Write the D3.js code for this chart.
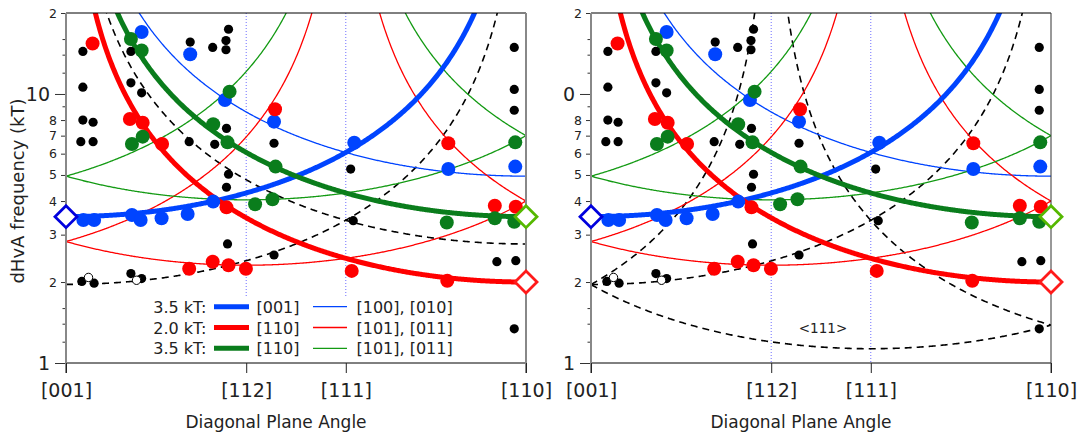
<!DOCTYPE html>
<html>
<head>
<meta charset="utf-8">
<script src="https://cdn.jsdelivr.net/npm/d3@7"></script>
<style>
  body { margin: 0; background: #fff; }
  text { font-family: "DejaVu Sans", sans-serif; fill: #222; }
</style>
</head>
<body>
<script>
// ---- data ----
var angleLabels = ["[001]", "[112]", "[111]", "[110]"];
var angleValues = [0, 35.26, 54.74, 90];
var freqMajor = [1, 10];
var freqLabeled = [2, 3, 4, 5, 6, 7, 8, 20];
var freqMinor = [1.2, 1.4, 1.6, 9, 12, 14, 16];

// measured dHvA points: [angle (deg from [001]), frequency (kT)]
var blackPts = [[3.3,14.4],[3.3,10.6],[3.3,8.0],[5.3,7.85],[2.9,6.65],[5.3,6.65],[12.7,14.4],[12.7,11.0],
  [14.8,10.1],[24.3,15.6],[28.7,14.9],[31.3,14.6],[31.3,15.8],[31.8,17.4],[24.1,6.65],[29.1,6.5],
  [31.4,7.45],[31.8,5.03],[31.4,4.5],[40.7,6.56],[55.7,5.26],[87.7,14.9],[87.7,10.4],[87.7,8.7],
  [31.6,2.77],[3.1,2.01],[5.5,1.98],[12.7,2.15],[14.8,2.06],[40.7,2.52],[56.2,3.38],[84.3,2.38],
  [88.0,2.40],[87.7,1.34]];
var openPts = [[4.4,2.08],[13.8,2.03]];
var bluePts = [[14.8,17.0],[24.3,14.05],[31.1,9.5],[28.8,3.98],[40.7,7.89],[56.4,6.59],[74.8,5.26],
  [87.9,5.37],[3.4,3.40],[5.5,3.40],[12.9,3.55],[14.6,3.40],[18.7,3.45],[23.8,3.58]];
var redPts = [[5.2,15.4],[12.5,8.07],[15.0,7.82],[18.8,6.52],[31.4,3.79],[40.9,8.77],[74.8,6.56],
  [83.9,3.84],[88.0,3.81],[24.1,2.24],[28.7,2.38],[31.8,2.31],[35.2,2.24],[55.9,2.20],[74.6,2.02]];
var greenPts = [[12.7,16.0],[14.8,14.5],[32.0,10.2],[12.9,6.52],[15.0,6.94],[28.8,7.72],[31.6,6.61],
  [37.0,3.89],[40.4,4.06],[41.0,5.37],[74.5,3.33],[83.9,3.45],[87.7,3.35],[87.9,6.61]];

// calculated extremal orbits: frequency F0 (kT) and the pocket axis
var orbitF0   = [3.5, 2.0, 3.5, 3.5, 2.0, 2.0, 3.5, 3.5];
var orbitAxis = [[0,0,1],[1,1,0],[1,1,0],[1,0,0],[1,0,1],[-1,0,1],[1,0,1],[-1,0,1]];
var leftDashF0 = [1.96, 2.77];
var leftDashAxis = [[0,0,1],[1,1,0]];
var rightDashF0 = [1.13, 1.13, 1.13];
var rightDashAxis = [[1,1,1],[-1,-1,1],[1,-1,1]];

// end markers
var diamondAngles = [0, 90, 90];
var diamondFreqs = [3.5, 2.0, 3.5];

var legendFreqs = ["3.5 kT:", "2.0 kT:", "3.5 kT:"];
var legendThick = ["[001]", "[110]", "[110]"];
var legendThin = ["[100], [010]", "[101], [011]", "[101], [011]"];

// ---- styles ----
var cBlue = "#0044ff", cRed = "#ff0000", cGreen = "#0a7d1c", cGreenThin = "#139a13";
var orbitColor = [cBlue, cRed, cGreen, cBlue, cRed, cRed, cGreenThin, cGreenThin];
var orbitWidth = [5, 5, 5, 1.3, 1.3, 1.3, 1.3, 1.3];
var diamondColor = ["#0000dd", "#ff1a1a", "#55b800"];

var width = 1086, height = 436;
var W = 460, yTop = 13, yBottom = 363;
var svg = d3.select("body").append("svg")
    .attr("width", width)
    .attr("height", height);

var x = d3.scaleLinear().domain([0, 90]).range([0, W]);
var y = d3.scaleLog().domain([1, 20]).range([yBottom, yTop]);
var rad = Math.PI / 180;
var thetas = d3.range(0, 90.0001, 0.2);

function freq(F0, axis, deg) {
    let s = Math.sin(deg * rad), c = Math.cos(deg * rad);
    let len = Math.hypot(axis[0], axis[1], axis[2]);
    let d = Math.abs((s / Math.SQRT2 * axis[0] + s / Math.SQRT2 * axis[1] + c * axis[2]) / len);
    return F0 / Math.max(d, 0.002);
}
var line = d3.line().x(d => x(d[0])).y(d => y(d[1]));

function drawPanel(x0, id, isLeft) {
    let g = svg.append("g").attr("transform", "translate(" + x0 + ",0)");

    svg.append("clipPath").attr("id", id)
        .append("rect").attr("x", 0).attr("y", yTop).attr("width", W).attr("height", yBottom - yTop);
    let plot = g.append("g").attr("clip-path", "url(#" + id + ")");

    // dotted guides at [112] and [111]
    plot.selectAll("line.guide")
        .data(angleValues.slice(1, 3))
        .enter().append("line")
        .attr("x1", d => x(d)).attr("x2", d => x(d))
        .attr("y1", yTop).attr("y2", yBottom)
        .style("stroke", "#6f6fff").style("stroke-width", 1).style("stroke-dasharray", "1,2");

    if (isLeft) {
        plot.append("rect").attr("x", 84).attr("y", 296).attr("width", 310).attr("height", 66)
            .style("fill", "white");
    }

    // dashed black curves
    let dF0 = isLeft ? leftDashF0 : rightDashF0;
    let dAx = isLeft ? leftDashAxis : rightDashAxis;
    dF0.forEach((f0, i) => {
        plot.append("path")
            .attr("d", line(thetas.map(t => [t, freq(f0, dAx[i], t)])))
            .style("fill", "none").style("stroke", "black")
            .style("stroke-width", 1.6).style("stroke-dasharray", "7,5");
    });

    // model orbits: thin first, thick on top
    let order = [3, 4, 5, 6, 7, 0, 1, 2];
    order.forEach(i => {
        plot.append("path")
            .attr("d", line(thetas.map(t => [t, freq(orbitF0[i], orbitAxis[i], t)])))
            .style("fill", "none").style("stroke", orbitColor[i])
            .style("stroke-width", orbitWidth[i]);
    });

    if (!isLeft) {
        g.append("text").attr("x", 232).attr("y", 333).attr("text-anchor", "middle")
            .style("font-size", "13.5px").text("<111>");
    }

    // points
    g.selectAll("circle.blk").data(blackPts).enter().append("circle")
        .attr("cx", d => x(d[0])).attr("cy", d => y(d[1])).attr("r", 4.6)
        .style("fill", "black");
    g.selectAll("circle.opn").data(openPts).enter().append("circle")
        .attr("cx", d => x(d[0])).attr("cy", d => y(d[1])).attr("r", 4.2)
        .style("fill", "white").style("stroke", "black").style("stroke-width", 1);
    [[bluePts, cBlue], [redPts, cRed], [greenPts, cGreen]].forEach(s => {
        g.append("g").selectAll("circle").data(s[0]).enter().append("circle")
            .attr("cx", d => x(d[0])).attr("cy", d => y(d[1])).attr("r", 7)
            .style("fill", s[1]);
    });

    // frame
    g.append("line").attr("x1", 0).attr("x2", W).attr("y1", yTop).attr("y2", yTop)
        .style("stroke", "black").style("stroke-width", 1);
    g.append("line").attr("x1", 0).attr("x2", W).attr("y1", yBottom).attr("y2", yBottom)
        .style("stroke", "black").style("stroke-width", 1);
    g.append("line").attr("x1", W).attr("x2", W).attr("y1", yTop).attr("y2", yBottom + 10)
        .style("stroke", isLeft ? "#888" : "#333").style("stroke-width", isLeft ? 2 : 1);

    // y axis
    let ax1 = g.append("g").call(d3.axisLeft(y).tickValues(freqMajor).tickSize(11).tickPadding(5)
        .tickFormat(d => (!isLeft && d === 10) ? "0" : String(d)));
    ax1.attr("font-family", null).attr("font-size", null);
    ax1.selectAll("text").style("font-size", "19px");
    let ax2 = g.append("g").call(d3.axisLeft(y).tickValues(freqLabeled).tickSize(5).tickPadding(4)
        .tickFormat(d => String(d)[0]));
    ax2.attr("font-family", null).attr("font-size", null);
    ax2.selectAll("text").style("font-size", "12.5px");
    g.append("g").call(d3.axisLeft(y).tickValues(freqMinor).tickSize(3.5).tickFormat(""));
    g.selectAll(".domain").remove();
    g.selectAll(".tick line").style("stroke", "#333");
    g.append("line").attr("x1", 0).attr("x2", 0).attr("y1", yTop).attr("y2", yBottom + 10)
        .style("stroke", "#888").style("stroke-width", 2);

    // x axis
    let xa = g.append("g").attr("transform", "translate(0," + yBottom + ")")
        .call(d3.axisBottom(x).tickValues(angleValues).tickSize(10).tickPadding(11)
            .tickFormat((d, i) => angleLabels[i]));
    xa.attr("font-family", null).attr("font-size", null);
    xa.select(".domain").remove();
    xa.selectAll("text").style("font-size", "19px");
    xa.selectAll(".tick line").style("stroke", "#222");

    g.append("text").attr("x", 210).attr("y", 428).attr("text-anchor", "middle")
        .style("font-size", "17px").text("Diagonal Plane Angle");

    // end diamonds
    g.selectAll("path.dia").data(diamondAngles).enter().append("path")
        .attr("transform", (d, i) => "translate(" + x(d) + "," + y(diamondFreqs[i]) + ")")
        .attr("d", "M0,-11L11,0L0,11L-11,0Z")
        .style("fill", "white").style("stroke", (d, i) => diamondColor[i]).style("stroke-width", 2.8);

    if (isLeft) {
        let rows = [306.7, 327.5, 348.3];
        let lg = svg.append("g");
        legendFreqs.forEach((t, i) => {
            lg.append("text").attr("x", 206.5).attr("y", rows[i] + 6).attr("text-anchor", "end")
                .style("font-size", "16px").text(t);
            lg.append("line").attr("x1", 214).attr("x2", 249).attr("y1", rows[i]).attr("y2", rows[i])
                .style("stroke", orbitColor[i]).style("stroke-width", 5);
            lg.append("text").attr("x", 256.5).attr("y", rows[i] + 6)
                .style("font-size", "16px").text(legendThick[i]);
            lg.append("line").attr("x1", 313).attr("x2", 347).attr("y1", rows[i]).attr("y2", rows[i])
                .style("stroke", orbitColor[i + 3 + (i > 0 ? i - 1 : 0)]).style("stroke-width", 1.3);
            lg.append("text").attr("x", 356.5).attr("y", rows[i] + 6)
                .style("font-size", "16px").text(legendThin[i]);
        });
    }
}

drawPanel(66, "clipL", true);
drawPanel(591, "clipR", false);

svg.append("text")
    .attr("transform", "translate(24,191) rotate(-90)")
    .attr("text-anchor", "middle")
    .style("font-size", "18px")
    .text("dHvA frequency (kT)");
</script>
</body>
</html>
